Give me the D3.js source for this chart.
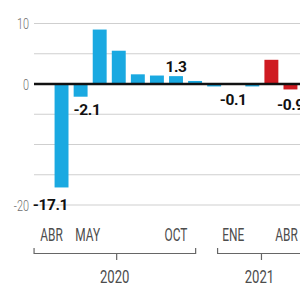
<!DOCTYPE html>
<html>
<head>
<meta charset="utf-8">
<script src="https://cdn.jsdelivr.net/npm/d3@7"></script>
<style>
  body { margin: 0; background: #fff; }
  svg { display: block; }
</style>
</head>
<body>
<div id="container"></div>
<script>
// chart data
var months = ["2020-04", "2020-05", "2020-06", "2020-07", "2020-08", "2020-09", "2020-10",
              "2020-11", "2020-12", "2021-01", "2021-02", "2021-03", "2021-04"];
var values = [-17.1, -2.1, 9.0, 5.5, 1.6, 1.4, 1.3, 0.5, -0.4, -0.1, -0.4, 4.0, -0.9];
var redMonths = ["2021-03", "2021-04"];

// month tick labels
var tickMonths = ["2020-04", "2020-05", "2020-10", "2021-01", "2021-04"];
var tickNames = ["ABR", "MAY", "OCT", "ENE", "ABR"];

// years under the brackets
var years = ["2020", "2021"];

// bars that carry a value label
var labelMonths = ["2020-04", "2020-05", "2020-10", "2021-01", "2021-04"];

var yTicks = [10, 0, -20];
var yGrid = [10, 5, -5, -10, -15, -20];

var width = 300, height = 283;

var svg = d3.select("#container").append("svg")
    .attr("width", width)
    .attr("height", height)
    .style("font-family", "Roboto, sans-serif");

//----------------------------SCALES-----------------------------//
var x = d3.scaleBand()
    .domain(months)
    .range([52, 300])
    .paddingInner(0.27)
    .paddingOuter(0.135);

var y = d3.scaleLinear()
    .domain([-20, 10])
    .range([205, 23.5]);

// continuous position by month index, for the year brackets
var xi = d3.scaleLinear()
    .domain([0, months.length - 1])
    .range([x(months[0]) + x.bandwidth() / 2, x(months[months.length - 1]) + x.bandwidth() / 2]);

//-----------------------------GRID------------------------------//
svg.append("g")
    .selectAll("line")
    .data(yGrid)
    .enter().append("line")
    .attr("x1", 34)
    .attr("x2", width)
    .attr("y1", d => y(d))
    .attr("y2", d => y(d))
    .style("stroke", "#cfcfcf")
    .style("stroke-width", 1.2);

svg.append("g")
    .selectAll("text")
    .data(yTicks)
    .enter().append("text")
    .attr("transform", d => "translate(29," + y(d) + ") scale(0.7,1)")
    .attr("dy", "0.36em")
    .style("text-anchor", "end")
    .style("font-size", "15.5px")
    .style("font-weight", 300)
    .style("fill", "#6f6f6f")
    .text(d => d);

//-----------------------------BARS------------------------------//
svg.append("g")
    .selectAll("rect")
    .data(months)
    .enter().append("rect")
    .attr("x", d => x(d))
    .attr("width", x.bandwidth())
    .attr("y", (d, i) => y(Math.max(0, values[i])))
    .attr("height", (d, i) => Math.abs(y(values[i]) - y(0)))
    .style("fill", d => redMonths.indexOf(d) >= 0 ? "#cf1b22" : "#1aa9e1");

// zero line
svg.append("line")
    .attr("x1", 34)
    .attr("x2", width)
    .attr("y1", y(0))
    .attr("y2", y(0))
    .style("stroke", "#111")
    .style("stroke-width", 2.6);

//------------------------VALUE LABELS---------------------------//
var labelAnchor = ["end", "start", "middle", "middle", "middle"];
var labelDx = [6.5, -7, 0, 0, 0];
var labelDy = [22.5, 18, -4, 20.5, 20.5];

svg.append("g")
    .selectAll("text")
    .data(labelMonths)
    .enter().append("text")
    .attr("x", (d, i) => x(d) + x.bandwidth() / 2 + labelDx[i])
    .attr("y", (d, i) => y(values[months.indexOf(d)]) + labelDy[i])
    .style("text-anchor", (d, i) => labelAnchor[i])
    .style("font-size", "15.5px")
    .style("font-weight", 700)
    .style("letter-spacing", "-0.4px")
    .style("fill", "#111")
    .text(d => {
        var v = values[months.indexOf(d)];
        return v.toFixed(1);
    });

//------------------------MONTH AXIS-----------------------------//
var tickDx = [-10, 7, 0, 0, -4];

svg.append("g")
    .selectAll("text")
    .data(tickMonths)
    .enter().append("text")
    .attr("transform", (d, i) => "translate(" + (x(d) + x.bandwidth() / 2 + tickDx[i]) + ",241) scale(0.68,1)")
    .style("text-anchor", "middle")
    .style("font-size", "17.5px")
    .style("font-weight", 400)
    .style("fill", "#4d4d4d")
    .text((d, i) => tickNames[i]);

// year brackets, ends given in month-index units
var bracketFrom = [-1.44, 8.18];
var bracketTo = [7.03, 13];
var bracketMid = [2.89, 10.48];

var brackets = svg.append("g")
    .selectAll("g")
    .data(years)
    .enter().append("g");

brackets.append("path")
    .attr("d", (d, i) => "M" + xi(bracketFrom[i]) + ",248V253.5H" + xi(bracketTo[i]) +
        (i === 0 ? "V248" : "") + "M" + xi(bracketMid[i]) + ",253.5V260")
    .style("fill", "none")
    .style("stroke", "#666")
    .style("stroke-width", 1.2);

brackets.append("text")
    .attr("transform", (d, i) => "translate(" + (xi(bracketMid[i]) - 2) + ",283) scale(0.75,1)")
    .style("text-anchor", "middle")
    .style("font-size", "17.5px")
    .style("font-weight", 400)
    .style("fill", "#4d4d4d")
    .text(d => d);
</script>
</body>
</html>
